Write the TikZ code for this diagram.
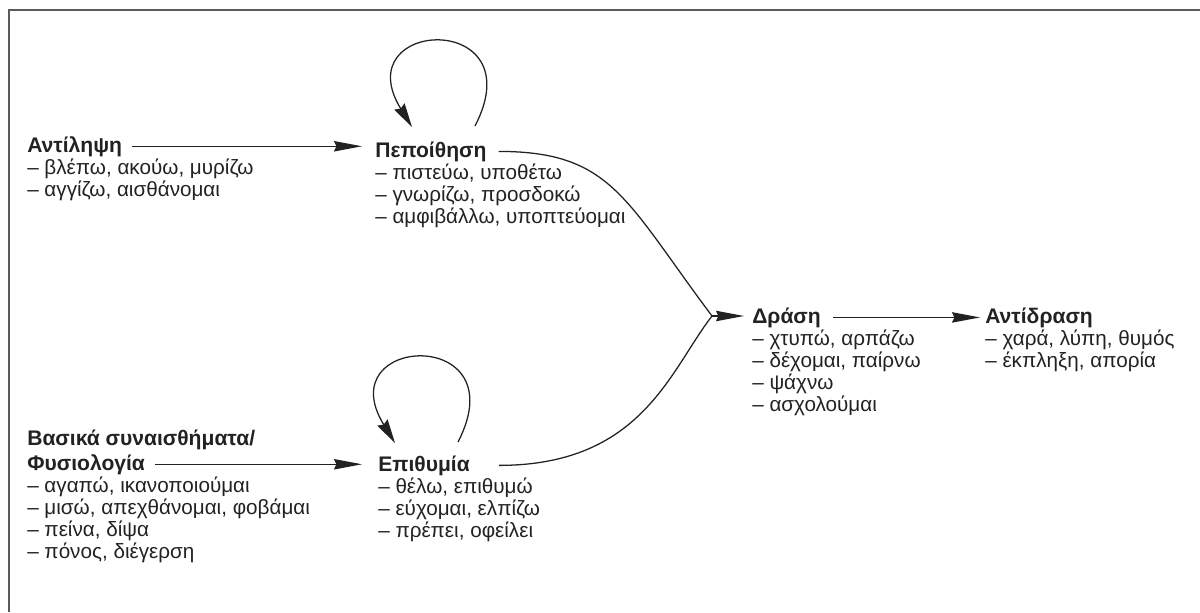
\documentclass[tikz,border=0pt]{standalone}
\usepackage{fontspec}
\setmainfont{Liberation Sans}
\usetikzlibrary{arrows.meta}

\definecolor{ink}{HTML}{222222}
\definecolor{framegray}{HTML}{5A5A5A}

\begin{document}
\begin{tikzpicture}[
    every node/.style={inner sep=0pt, text=ink},
    head/.style={anchor=base west, font=\fontsize{15}{18}\selectfont\bfseries},
    item/.style={anchor=base west, font=\fontsize{14.7}{18}\selectfont},
    link/.style={draw=ink, line width=0.9pt},
    arr/.style={link, -{Stealth[length=7mm, width=2.6mm, inset=0.6mm]}},
    selfarr/.style={link, -{Stealth[length=6mm, width=3mm, inset=0.6mm]}}
  ]
    \useasboundingbox (0,0) rectangle (30,-15.3);
    \draw[framegray, line width=1.4pt] (0.225,-15.3) -- (0.225,-0.25) -- (30,-0.25);

    % headings
    \node[head] (ant) at (0.675,-3.8) {Αντίληψη};
    \node[head] (pep) at (9.375,-3.925) {Πεποίθηση};
    \node[head] (bas) at (0.675,-11.125) {Βασικά συναισθήματα/};
    \node[head] (fys) at (0.675,-11.75) {Φυσιολογία};
    \node[head] (epi) at (9.45,-11.775) {Επιθυμία};
    \node[head] (dra) at (18.8,-8.075) {Δράση};
    \node[head] (ada) at (24.625,-8.075) {Αντίδραση};

    % lists under the headings
    \foreach \t [count=\i] in {{βλέπω, ακούω, μυρίζω}, {αγγίζω, αισθάνομαι}}
        \node[item] (ant-\i) at ([yshift=-\i*5.55mm]ant.base west) {– \t};
    \foreach \t [count=\i] in {{πιστεύω, υποθέτω}, {γνωρίζω, προσδοκώ}, {αμφιβάλλω, υποπτεύομαι}}
        \node[item] (pep-\i) at ([yshift=-\i*5.55mm]pep.base west) {– \t};
    \foreach \t [count=\i] in {{αγαπώ, ικανοποιούμαι}, {μισώ, απεχθάνομαι, φοβάμαι}, {πείνα, δίψα}, {πόνος, διέγερση}}
        \node[item] (fys-\i) at ([yshift=-\i*5.55mm]fys.base west) {– \t};
    \foreach \t [count=\i] in {{θέλω, επιθυμώ}, {εύχομαι, ελπίζω}, {πρέπει, οφείλει}}
        \node[item] (epi-\i) at ([yshift=-\i*5.55mm]epi.base west) {– \t};
    \foreach \t [count=\i] in {{χτυπώ, αρπάζω}, {δέχομαι, παίρνω}, {ψάχνω}, {ασχολούμαι}}
        \node[item] (dra-\i) at ([yshift=-\i*5.55mm]dra.base west) {– \t};
    \foreach \t [count=\i] in {{χαρά, λύπη, θυμός}, {έκπληξη, απορία}}
        \node[item] (ada-\i) at ([yshift=-\i*5.55mm]ada.base west) {– \t};

    % straight arrows
    \draw[arr] ([xshift=2.5mm]ant.east) -- ([xshift=-3.25mm]ant.east -| pep.west);
    \draw[arr] ([xshift=2.5mm]fys.east) -- ([xshift=-4mm]fys.east -| epi.west);
    \draw[arr] ([xshift=3mm]dra.east) -- ([xshift=-1.25mm]dra.east -| ada.west);

    % the two curves join before Δράση
    \coordinate (meet) at (17.8,-7.9);
    \draw[link] ([xshift=3mm]pep.east) .. controls +(2.825,0) and +(-2.175,2.9) .. (meet);
    \draw[link] ([xshift=7.25mm]epi.east) .. controls +(3.575,0) and +(-1.05,-1.35) .. (meet);
    \draw[arr] (meet) -- ([xshift=-2mm]meet -| dra.west);

    % loops
    \draw[selfarr] ([xshift=25mm, yshift=7.75mm]pep.base west)
        .. controls +(1.5,2.9) and +(-1.675,2.725) .. ([xshift=9.25mm, yshift=7.5mm]pep.base west);
    \draw[selfarr] ([xshift=20mm, yshift=7.25mm]epi.base west)
        .. controls +(1.5,2.9) and +(-1.675,2.725) .. ([xshift=4.25mm, yshift=7mm]epi.base west);
\end{tikzpicture}
\end{document}
